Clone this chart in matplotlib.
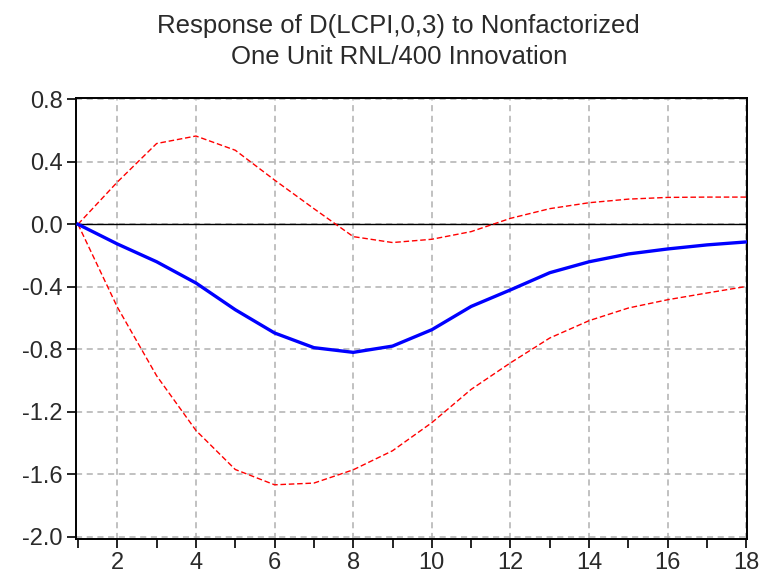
import matplotlib
matplotlib.use('Agg')
import matplotlib.pyplot as plt
import numpy as np

plt.rcParams['font.family'] = ['Liberation Sans', 'DejaVu Sans']

periods = list(range(1, 19))
response = [0.0, -0.126, -0.24, -0.376, -0.547, -0.696, -0.79, -0.82, -0.78,
            -0.675, -0.526, -0.42, -0.31, -0.24, -0.19, -0.158, -0.132, -0.113]
upper = [0.0, 0.27, 0.517, 0.565, 0.474, 0.283, 0.10, -0.079, -0.117,
         -0.096, -0.047, 0.038, 0.10, 0.138, 0.161, 0.172, 0.174, 0.174]
lower = [0.0, -0.53, -0.97, -1.32, -1.57, -1.668, -1.657, -1.572, -1.45,
         -1.27, -1.057, -0.887, -0.728, -0.617, -0.536, -0.483, -0.44, -0.398]

yticks = [-2.0, -1.6, -1.2, -0.8, -0.4, 0.0, 0.4, 0.8]
xlabels = [2, 4, 6, 8, 10, 12, 14, 16, 18]

fig = plt.figure(figsize=(7.64, 5.75), dpi=100)
ax = fig.add_axes([0.0995, 0.0626, 0.8785, 0.7674])

# grid
for yv in yticks:
    ax.axhline(yv, color='#b0b0b0', lw=1.1, ls=(0, (4, 3)), zorder=1)
for xv in xlabels:
    ax.axvline(xv, color='#b0b0b0', lw=1.1, ls=(0, (4, 3)), zorder=1)
ax.axhline(0, color='black', lw=1.0, zorder=2)

ax.plot(periods, upper, color='red', lw=1.0, ls=(0, (4, 2)), zorder=3)
ax.plot(periods, lower, color='red', lw=1.0, ls=(0, (4, 2)), zorder=3)
ax.plot(periods, response, color='blue', lw=2.4, zorder=4)

ax.set_xlim(0.95, 18.02)
ax.set_ylim(-2.015, 0.81)
ax.set_xticks(periods)
ax.set_xticklabels([str(p) if p % 2 == 0 else '' for p in periods])
ax.set_yticks(yticks)
ax.set_yticklabels(['%.1f' % v for v in yticks])
ax.tick_params(direction='out', length=6.5, width=1.2, labelsize=17,
               colors='black', labelcolor='#2a2a2a', pad=3)
for s in ax.spines.values():
    s.set_linewidth(1.4)

fig.text(0.522, 0.976, 'Response of D(LCPI,0,3) to Nonfactorized\nOne Unit RNL/400 Innovation',
         fontsize=18.5, linespacing=1.38, ha='center', va='top', multialignment='center',
         color='#2a2a2a')

fig.savefig('out.png', dpi=100)
